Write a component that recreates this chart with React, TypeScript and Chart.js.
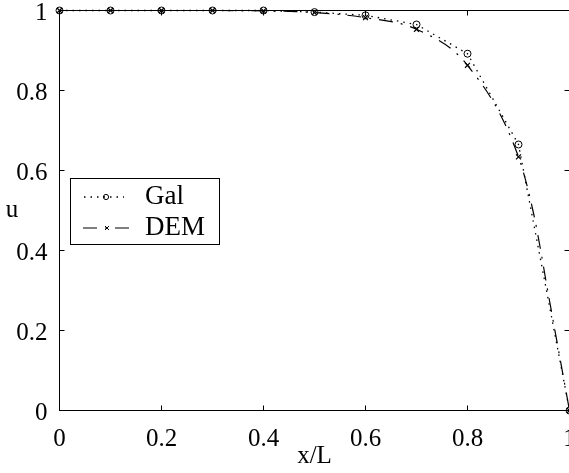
import React, { useEffect, useRef } from "react";
import { Chart, registerables } from "chart.js";
Chart.register(...registerables);

// ---- data ----
const galX = [0, 0.1, 0.2, 0.3, 0.4, 0.5, 0.6, 0.7, 0.8, 0.9, 1.0];
const galValues = [1, 1, 1, 1, 1, 0.996, 0.988, 0.965, 0.892, 0.665, 0];
const demX = [0, 0.1, 0.2, 0.3, 0.4, 0.5, 0.6, 0.7, 0.8, 0.9, 0.93, 0.96, 0.98, 1.0];
const demValues = [1, 1, 1, 1, 0.999, 0.995, 0.982, 0.953, 0.863, 0.634, 0.49, 0.28, 0.14, 0];
const demMarked = [true, true, true, true, true, true, true, true, true, true, false, false, false, true];
const xTicks = [0, 0.2, 0.4, 0.6, 0.8, 1];
const yTicks = [0, 0.2, 0.4, 0.6, 0.8, 1];
const seriesLabels = ["Gal", "DEM"];
const xTitle = "x/L";
const yTitle = "u";

const FONT = "'Liberation Serif', 'Times New Roman', serif";
const GAL_DASH = [1.5, 5];
const DEM_DASH = [14, 8, 2, 8];
const fmt = (v: any) => String(Number(v));

const framePlugin = {
  id: "frameTicks",
  afterDraw(chart: any) {
    const { ctx, chartArea } = chart;
    const { left, right, top, bottom } = chartArea;
    const xs = chart.scales.x;
    const ys = chart.scales.y;
    ctx.save();
    ctx.strokeStyle = "#000";
    ctx.lineWidth = 1;
    ctx.setLineDash([]);
    ctx.strokeRect(left, top, right - left, bottom - top);
    const tl = 5;
    ctx.beginPath();
    xTicks.forEach((v) => {
      const px = Math.round(xs.getPixelForValue(v) - 0.5) + 0.5;
      ctx.moveTo(px, bottom);
      ctx.lineTo(px, bottom - tl);
      ctx.moveTo(px, top);
      ctx.lineTo(px, top + tl);
    });
    yTicks.forEach((v) => {
      const py = Math.round(ys.getPixelForValue(v) - 0.5) + 0.5;
      ctx.moveTo(left, py);
      ctx.lineTo(left + tl, py);
      ctx.moveTo(right, py);
      ctx.lineTo(right - tl, py);
    });
    ctx.stroke();

    // y title (upright, as in reference)
    ctx.fillStyle = "#000";
    ctx.font = `25px ${FONT}`;
    ctx.textAlign = "center";
    ctx.textBaseline = "middle";
    ctx.fillText(yTitle, 12, (top + bottom) / 2);

    // legend box
    const bx = 70.5, by = 178.5, bw = 149, bh = 66;
    ctx.fillStyle = "#fff";
    ctx.fillRect(bx, by, bw, bh);
    ctx.strokeRect(bx, by, bw, bh);
    const rows = [197, 228];
    // Gal sample
    ctx.lineWidth = 1.3;
    ctx.setLineDash(GAL_DASH);
    ctx.beginPath();
    ctx.moveTo(84, rows[0]);
    ctx.lineTo(124, rows[0]);
    ctx.stroke();
    ctx.setLineDash([]);
    ctx.lineWidth = 1;
    ctx.beginPath();
    ctx.arc(106, rows[0], 2.6, 0, Math.PI * 2);
    ctx.stroke();
    // DEM sample
    ctx.lineWidth = 1.2;
    ctx.setLineDash(DEM_DASH);
    ctx.beginPath();
    ctx.moveTo(83, rows[1]);
    ctx.lineTo(129, rows[1]);
    ctx.stroke();
    ctx.setLineDash([]);
    ctx.lineWidth = 1;
    ctx.beginPath();
    const cx = 107, cy = rows[1], r = 2;
    ctx.moveTo(cx - r, cy - r); ctx.lineTo(cx + r, cy + r);
    ctx.moveTo(cx - r, cy + r); ctx.lineTo(cx + r, cy - r);
    ctx.stroke();
    ctx.fillStyle = "#000";
    ctx.font = `27px ${FONT}`;
    ctx.textAlign = "left";
    ctx.textBaseline = "middle";
    ctx.fillText(seriesLabels[0], 145, rows[0]);
    ctx.fillText(seriesLabels[1], 145, rows[1]);
    ctx.restore();
  },
};

export default function App() {
  const ref = useRef<HTMLCanvasElement | null>(null);
  useEffect(() => {
    if (!ref.current) return;
    const chart = new Chart(ref.current, {
      type: "line",
      data: {
        datasets: [
          {
            label: seriesLabels[0],
            data: galX.map((x, i) => ({ x, y: galValues[i] })),
            borderColor: "#000",
            borderWidth: 1.3,
            borderDash: GAL_DASH,
            pointStyle: "circle",
            pointRadius: 3.5,
            pointBorderWidth: 1,
            pointBorderColor: "#000",
            pointBackgroundColor: "rgba(0,0,0,0)",
            fill: false,
            tension: 0,
            clip: false,
          },
          {
            label: seriesLabels[1],
            data: demX.map((x, i) => ({ x, y: demValues[i] })),
            borderColor: "#000",
            borderWidth: 1.2,
            borderDash: DEM_DASH,
            cubicInterpolationMode: "monotone",
            pointStyle: "crossRot",
            pointRadius: (c: any) => (demMarked[c.dataIndex] ? 3.5 : 0),
            pointBorderWidth: 1.2,
            pointBorderColor: "#000",
            pointBackgroundColor: "rgba(0,0,0,0)",
            fill: false,
            clip: false,
          },
        ],
      },
      options: {
        responsive: false,
        animation: false,
        devicePixelRatio: 1,
        layout: { padding: { left: 0, top: 10.5, right: 30.5, bottom: 0 } },
        plugins: { legend: { display: false }, tooltip: { enabled: false } },
        scales: {
          x: {
            type: "linear",
            min: 0,
            max: 1,
            grid: { display: false },
            border: { display: false },
            afterBuildTicks: (s: any) => {
              s.ticks = xTicks.map((v) => ({ value: v }));
            },
            afterFit: (s: any) => {
              s.height = 62.5;
            },
            ticks: {
              autoSkip: false,
              maxRotation: 0,
              padding: 6,
              color: "#000",
              callback: fmt,
              font: { family: FONT, size: 25, lineHeight: 1.2 },
            },
            title: {
              display: true,
              text: xTitle,
              color: "#000",
              font: { family: FONT, size: 25, lineHeight: 1.2 },
              padding: { top: 0, bottom: 2 },
            },
          },
          y: {
            type: "linear",
            min: 0,
            max: 1,
            grid: { display: false },
            border: { display: false },
            afterBuildTicks: (s: any) => {
              s.ticks = yTicks.map((v) => ({ value: v }));
            },
            afterFit: (s: any) => {
              s.width = 59.5;
            },
            ticks: {
              autoSkip: false,
              padding: 4,
              labelOffset: 2.5,
              color: "#000",
              callback: fmt,
              font: { family: FONT, size: 25, lineHeight: 0.4 },
            },
          },
        },
      },
      plugins: [framePlugin],
    } as any);
    return () => chart.destroy();
  }, []);
  return (
    <div
      style={{
        position: "fixed",
        left: 0,
        top: 0,
        width: 569,
        height: 473,
        overflow: "hidden",
        background: "#fff",
      }}
    >
      <canvas ref={ref} width={600} height={473} style={{ display: "block" }} />
    </div>
  );
}
